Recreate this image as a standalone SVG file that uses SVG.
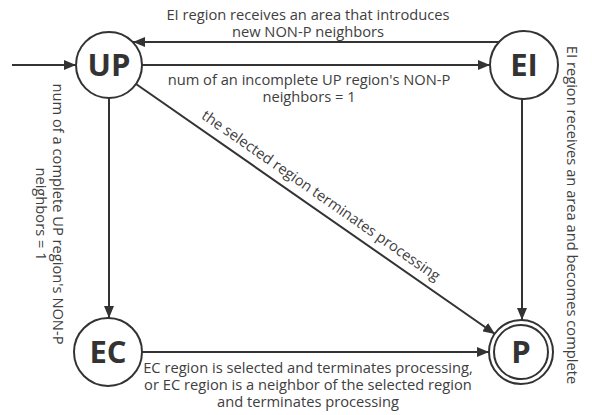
<svg xmlns="http://www.w3.org/2000/svg" width="592" height="415" viewBox="0 0 592 415">
<style>
.n{fill:#fff;stroke:#333;stroke-width:2}
.nl{font-family:"Open Sans","Noto Sans",sans-serif;font-weight:bold;font-size:31px;fill:#333;text-anchor:middle}
.e{stroke:#333;stroke-width:2;fill:none;marker-end:url(#ah)}
.t{font-family:"Open Sans","Noto Sans",sans-serif;font-size:14.7px;fill:#404040;text-anchor:middle}
</style>
<defs>
<marker id="ah" viewBox="0 0 12 10" refX="12" refY="5" markerWidth="12" markerHeight="10" markerUnits="userSpaceOnUse" orient="auto">
<path d="M0,0 L12,5 L0,10 Z" fill="#333"/>
</marker>
</defs>
<g id="edges">
<line class="e" x1="12" y1="65" x2="76" y2="65"/>
<line class="e" x1="499" y1="42" x2="133" y2="42"/>
<line class="e" x1="142" y1="65" x2="490" y2="65"/>
<line class="e" x1="109" y1="98" x2="109" y2="318"/>
<line class="e" x1="522" y1="99" x2="522" y2="320"/>
<line class="e" x1="136" y1="84" x2="495" y2="334"/>
<line class="e" x1="142" y1="352" x2="489" y2="352"/>
<text class="t" x="308" y="20">EI region receives an area that introduces</text>
<text class="t" x="308" y="37">new NON-P neighbors</text>
<text class="t" x="309" y="85">num of an incomplete UP region's NON-P</text>
<text class="t" x="309" y="102">neighbors = 1</text>
<text class="t" transform="translate(53,214) rotate(90)"><tspan x="0" y="0">num of a complete UP region's NON-P</tspan><tspan x="0" y="17">neighbors = 1</tspan></text>
<text class="t" transform="translate(567,215) rotate(90)">EI region receives an area and becomes complete</text>
<text class="t" transform="translate(313,207) rotate(34.86)" y="-9">the selected region terminates processing</text>
<text class="t" x="308" y="373">EC region is selected and terminates processing,</text>
<text class="t" x="308" y="390">or EC region is a neighbor of the selected region</text>
<text class="t" x="308" y="407">and terminates processing</text>
</g>
<g id="UP"><circle class="n" cx="109" cy="65" r="33"/><text class="nl" x="109" y="76">UP</text></g>
<g id="EI"><circle class="n" cx="524" cy="65" r="34"/><text class="nl" x="524" y="76">EI</text></g>
<g id="EC"><circle class="n" cx="108" cy="352" r="34"/><text class="nl" x="108" y="363">EC</text></g>
<g id="P"><circle class="n" cx="521" cy="352" r="32"/><circle class="n" cx="521" cy="352" r="27"/><text class="nl" x="521" y="363">P</text></g>
</svg>
